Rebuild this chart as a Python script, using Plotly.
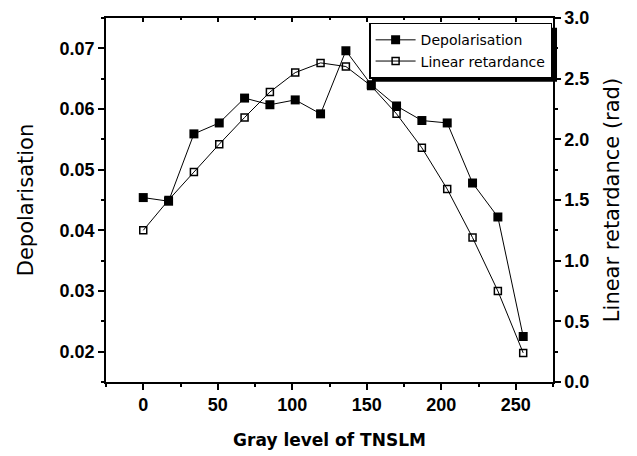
import plotly.graph_objects as go

gray_level = [0, 17, 34, 51, 68, 85, 102, 119, 136, 153, 170, 187, 204, 221, 238, 255]
depolarisation = [0.0454, 0.0448, 0.0559, 0.0577, 0.0618, 0.0607, 0.0615, 0.0592,
                  0.0696, 0.0640, 0.0605, 0.0581, 0.0577, 0.0478, 0.0422, 0.0225]
linear_retardance = [1.25, 1.50, 1.73, 1.96, 2.18, 2.39, 2.55, 2.63,
                     2.60, 2.44, 2.21, 1.93, 1.59, 1.19, 0.75, 0.24]

FONT = "Liberation Sans"
TFONT = "DejaVu Sans"

fig = go.Figure()
fig.add_trace(go.Scatter(
    x=gray_level, y=depolarisation, name="Depolarisation", mode="lines+markers",
    line=dict(color="black", width=1),
    marker=dict(symbol="square", size=9, color="black"),
    yaxis="y"))
fig.add_trace(go.Scatter(
    x=gray_level, y=linear_retardance, name="Linear retardance", mode="lines+markers",
    line=dict(color="black", width=1),
    marker=dict(symbol="square-open", size=7, color="black", line=dict(width=1.5)),
    yaxis="y2"))
# invisible trace to draw the top axis
fig.add_trace(go.Scatter(x=[gray_level[0]], y=[depolarisation[0]], xaxis="x2", yaxis="y",
                         mode="markers", marker=dict(opacity=0), showlegend=False,
                         hoverinfo="skip"))

tickfont = dict(family=FONT, size=18, color="black", weight="bold")
axis_common = dict(showgrid=False, zeroline=False, showline=True, linecolor="black",
                   linewidth=1.5, ticks="outside", ticklen=6, tickwidth=1.5,
                   tickcolor="black", tickfont=tickfont, automargin=False)

fig.update_layout(
    width=629, height=448,
    margin=dict(l=98, r=84, t=10, b=74),
    paper_bgcolor="white", plot_bgcolor="white",
    showlegend=True,
    xaxis=dict(range=[-25, 275], tick0=0, dtick=50,
               minor=dict(dtick=25, ticks="outside", ticklen=3, tickwidth=1.5, tickcolor="black"),
               title=dict(text="Gray level of TNSLM", font=dict(family=TFONT, size=17, color="black", weight="bold"),
                          standoff=20),
               **axis_common),
    xaxis2=dict(range=[-25, 275], overlaying="x", side="top", showticklabels=False,
                showgrid=False, zeroline=False, showline=True, linecolor="black", linewidth=1.5,
                ticks="inside", ticklen=4, tickwidth=1.5, tickcolor="black", tick0=0, dtick=50,
                minor=dict(dtick=25, ticks="inside", ticklen=2, tickwidth=1.5, tickcolor="black")),
    yaxis=dict(range=[0.015, 0.075], tick0=0.02, dtick=0.01, tickformat=".2f",
               minor=dict(dtick=0.005, ticks="outside", ticklen=3, tickwidth=1.5, tickcolor="black"),
               title=dict(text="Depolarisation", font=dict(family=TFONT, size=21, color="black"),
                          standoff=20),
               **axis_common),
    yaxis2=dict(range=[0, 3.0], tick0=0, dtick=0.5, tickformat=".1f", overlaying="y", side="right",
                minor=dict(dtick=0.25, ticks="outside", ticklen=3, tickwidth=1.5, tickcolor="black"),
                title=dict(text="Linear retardance (rad)", font=dict(family=TFONT, size=21, color="black"),
                           standoff=16),
                **axis_common),
    legend=dict(x=0.998, xanchor="right", y=0.987, yanchor="top",
                bgcolor="white", bordercolor="black", borderwidth=1.5,
                font=dict(family=TFONT, size=14, color="black"),
                tracegroupgap=0, itemwidth=40),
    shapes=[dict(type="rect", xref="paper", yref="paper", x0=0.595, x1=1.009, y0=0.825, y1=0.973,
                 fillcolor="black", line=dict(width=0), layer="below")],
)

fig.write_html("out.html")
